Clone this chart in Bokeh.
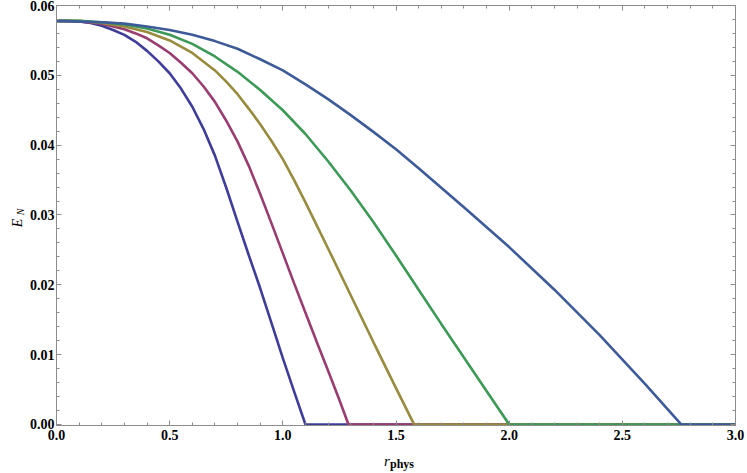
from bokeh.plotting import figure
from bokeh.models import Range1d, LinearAxis, FixedTicker, PrintfTickFormatter, Label
from bokeh.embed import file_html
from bokeh.resources import INLINE
import math

# ---- data (r_phys, E_N) ----
x_c1 = [0.0, 0.05, 0.1, 0.15, 0.2, 0.25, 0.3, 0.35, 0.4, 0.45, 0.5, 0.55, 0.6, 0.65, 0.7, 0.75,
        0.8, 0.85, 0.9, 0.95, 1.0, 1.05, 1.1, 3.0]
y_c1 = [0.0578, 0.0578, 0.0577, 0.0575, 0.0571, 0.0565, 0.0558, 0.0548, 0.0535, 0.0520, 0.0503, 0.0481,
        0.0455, 0.0423, 0.0385, 0.0339, 0.0290, 0.0242, 0.0195, 0.0145, 0.0095, 0.0047, 0.0, 0.0]

x_c2 = [0.0, 0.1, 0.2, 0.25, 0.3, 0.35, 0.4, 0.45, 0.5, 0.55, 0.6, 0.65, 0.7, 0.75, 0.8, 0.85, 0.9,
        0.95, 1.0, 1.05, 1.1, 1.15, 1.2, 1.25, 1.29, 3.0]
y_c2 = [0.0578, 0.0577, 0.0574, 0.0570, 0.0566, 0.0560, 0.0553, 0.0543, 0.0532, 0.0518, 0.0503, 0.0484,
        0.0462, 0.0435, 0.0405, 0.0370, 0.0330, 0.0288, 0.0245, 0.0202, 0.0160, 0.0118, 0.0077, 0.0035,
        0.0, 0.0]

x_c3 = [0.0, 0.1, 0.2, 0.3, 0.4, 0.5, 0.6, 0.7, 0.75, 0.8, 0.85, 0.9, 0.95, 1.0, 1.05, 1.1, 1.2, 1.3,
        1.4, 1.5, 1.58, 3.0]
y_c3 = [0.0578, 0.0578, 0.0575, 0.0570, 0.0562, 0.0550, 0.0532, 0.0507, 0.0491, 0.0473, 0.0452, 0.0430,
        0.0406, 0.0380, 0.0350, 0.0318, 0.0252, 0.0185, 0.0118, 0.0052, 0.0, 0.0]

x_c4 = [0.0, 0.1, 0.2, 0.3, 0.4, 0.5, 0.6, 0.7, 0.8, 0.9, 1.0, 1.1, 1.2, 1.3, 1.4, 1.5, 1.6, 1.7, 1.8,
        1.9, 2.0, 3.0]
y_c4 = [0.0578, 0.0578, 0.0576, 0.0573, 0.0567, 0.0558, 0.0545, 0.0527, 0.0505, 0.0479, 0.0450, 0.0416,
        0.0377, 0.0335, 0.0290, 0.0242, 0.0193, 0.0144, 0.0096, 0.0048, 0.0, 0.0]

x_c5 = [0.0, 0.2, 0.3, 0.4, 0.5, 0.6, 0.7, 0.8, 0.9, 1.0, 1.1, 1.2, 1.3, 1.4, 1.5, 1.6, 1.8, 2.0, 2.2,
        2.4, 2.6, 2.76, 3.0]
y_c5 = [0.0578, 0.0576, 0.0574, 0.0570, 0.0565, 0.0558, 0.0549, 0.0538, 0.0523, 0.0507, 0.0487, 0.0466,
        0.0443, 0.0419, 0.0394, 0.0367, 0.0311, 0.0254, 0.0193, 0.0128, 0.0058, 0.0, 0.0]

colors = ["#3F3D99", "#993D71", "#998B3D", "#3D9956", "#3D5A99"]

x_ticks = [0.0, 0.5, 1.0, 1.5, 2.0, 2.5, 3.0]
x_minor = [round(0.1 * i, 1) for i in range(31)]
y_ticks = [0.0, 0.01, 0.02, 0.03, 0.04, 0.05, 0.06]
y_minor = [round(0.002 * i, 3) for i in range(31)]

FRAME = "#8c8c8c"
FONT = "Liberation Serif"

p = figure(width=747, height=473, output_backend="svg", toolbar_location=None,
           x_range=Range1d(0, 3.0), y_range=Range1d(-0.00015, 0.06),
           min_border_left=56, min_border_right=12, min_border_top=5, min_border_bottom=48)
p.xgrid.visible = False
p.ygrid.visible = False
p.outline_line_color = FRAME
p.background_fill_color = "white"
p.border_fill_color = "white"

for xs, ys, c in zip([x_c1, x_c2, x_c3, x_c4, x_c5], [y_c1, y_c2, y_c3, y_c4, y_c5], colors):
    p.line(xs, ys, line_color=c, line_width=2.6)

def style(ax, ticks, minor, fmt, show):
    ax.ticker = FixedTicker(ticks=ticks, minor_ticks=minor)
    ax.formatter = PrintfTickFormatter(format=fmt)
    ax.axis_line_color = FRAME
    ax.major_tick_line_color = FRAME
    ax.minor_tick_line_color = FRAME
    ax.major_tick_in = 5
    ax.major_tick_out = 0
    ax.minor_tick_in = 3
    ax.minor_tick_out = 0
    ax.major_label_text_font = FONT
    ax.major_label_text_font_style = "bold"
    if show:
        ax.major_label_text_font_size = "14px"
        ax.major_label_text_color = "black"
    else:
        ax.major_label_text_font_size = "0px"
        ax.major_label_text_color = None
        ax.major_label_standoff = 0

style(p.xaxis[0], x_ticks, x_minor, "%.1f", True)
p.xaxis[0].major_label_standoff = 4
style(p.yaxis[0], y_ticks, y_minor, "%.2f", True)
p.yaxis[0].major_label_standoff = 2

top = LinearAxis()
style(top, x_ticks, x_minor, "%.1f", False)
p.add_layout(top, "above")
right = LinearAxis()
style(right, y_ticks, y_minor, "%.2f", False)
p.add_layout(right, "right")

# axis titles (E_N and r_phys) as text labels, kept in the side panels so they are not clipped
lab_E = Label(x=0, y=0.03, x_offset=-39, y_offset=-8, text="E", angle=math.pi / 2,
              text_font=FONT, text_font_style="italic", text_font_size="14px",
              text_align="center", text_baseline="alphabetic", text_color="black")
lab_N = Label(x=0, y=0.03, x_offset=-36, y_offset=3, text="N", angle=math.pi / 2,
              text_font=FONT, text_font_style="italic", text_font_size="10px",
              text_align="center", text_baseline="alphabetic", text_color="black")
lab_r = Label(x=1.5, y=0, x_offset=-12, y_offset=-37, text="r",
              text_font=FONT, text_font_style="italic", text_font_size="15px",
              text_align="left", text_baseline="alphabetic", text_color="black")
lab_phys = Label(x=1.5, y=0, x_offset=-6, y_offset=-40, text="phys",
                 text_font=FONT, text_font_style="bold", text_font_size="12px",
                 text_align="left", text_baseline="alphabetic", text_color="black")
p.add_layout(lab_E, "left")
p.add_layout(lab_r, "left")
p.add_layout(lab_phys, "below")
p.add_layout(lab_N, "below")

open("out.html", "w").write(file_html(p, INLINE))
